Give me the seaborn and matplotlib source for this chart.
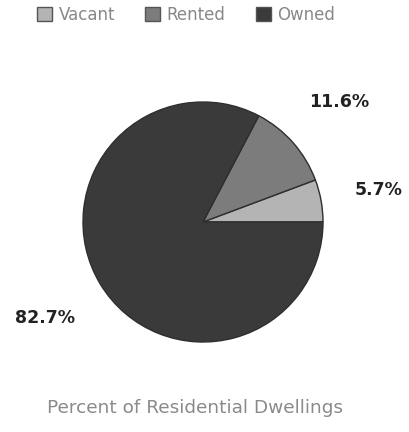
import numpy as np
import matplotlib
matplotlib.use("Agg")
import matplotlib.pyplot as plt
import seaborn as sns
from matplotlib.patches import Patch

categories = ["Vacant", "Rented", "Owned"]
values = [5.7, 11.6, 82.7]
colors = ["#b4b4b4", "#7c7c7c", "#3a3a3a"]
label_dist = [1.49, 1.51, 1.54]
title = "Percent of Residential Dwellings"

sns.set_theme(style="white")
plt.rcParams['font.family'] = ['DejaVu Sans']
palette = sns.color_palette(colors)

fig = plt.figure(figsize=(4.09, 4.32), dpi=100)
ax = fig.add_axes([83 / 409, 1 - 342 / 432, 240 / 409, 240 / 432])
wedges, _ = ax.pie(values, colors=palette, startangle=0, counterclock=True,
                   wedgeprops=dict(edgecolor="#2e2e2e", linewidth=1.0))
ax.set_aspect("equal")
ax.set_xlim(-1.0, 1.0)
ax.set_ylim(-1.0, 1.0)

for w, v, d in zip(wedges, values, label_dist):
    th = np.deg2rad((w.theta1 + w.theta2) / 2)
    ax.text(d * np.cos(th), d * np.sin(th), f"{v:.1f}%", ha="center", va="center",
            fontsize=12.5, fontweight="bold", color="#222222", clip_on=False)

handles = [Patch(facecolor=c, edgecolor="#555555", label=l) for c, l in zip(palette, categories)]
fig.legend(handles=handles, loc="center", bbox_to_anchor=(186 / 409, 1 - 15 / 432), ncol=3,
           frameon=False, fontsize=12, handlelength=0.9, handleheight=0.9,
           handletextpad=0.4, columnspacing=1.8, labelcolor="#888888")

fig.text(195 / 409, 1 - 408 / 432, title, ha="center", va="center", fontsize=13.3, color="#8a8a8a")

fig.savefig("out.png", dpi=100)
